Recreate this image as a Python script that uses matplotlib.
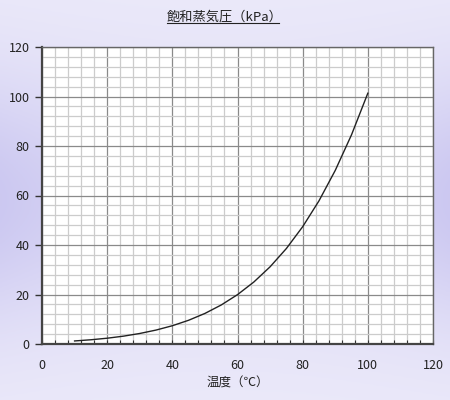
import numpy as np
import matplotlib
matplotlib.use("Agg")
import matplotlib.pyplot as plt
from matplotlib.ticker import MultipleLocator
from matplotlib.lines import Line2D

plt.rcParams['font.family'] = ['Noto Sans CJK JP', 'DejaVu Sans']

temps = [10, 15, 20, 25, 30, 35, 40, 45, 50, 55, 60, 65, 70, 75, 80, 85, 90, 95, 100]
pressure = [1.23, 1.71, 2.34, 3.17, 4.25, 5.63, 7.38, 9.59, 12.35, 15.76, 19.94,
            25.03, 31.19, 38.58, 47.39, 57.83, 70.14, 84.55, 101.33]
title = "飽和蒸気圧（kPa）"
xlabel = "温度（℃）"

fig = plt.figure(figsize=(4.5, 4.0), dpi=100)

# background gradient
bg = fig.add_axes([0, 0, 1, 1], zorder=-10)
bg.axis('off')
top = np.array([0.925, 0.918, 0.980])
mid = np.array([0.800, 0.785, 0.945])
yy = np.linspace(0, 1, 200)
prof = np.exp(-((yy - 0.5) / 0.32) ** 2)
xx = np.linspace(-1, 1, 200)
xprof = 0.55 + 0.45 * xx ** 2
w = prof[:, None] * xprof[None, :]
img = top[None, None, :] * (1 - w[..., None]) + mid[None, None, :] * w[..., None]
bg.imshow(img, aspect='auto', extent=[0, 1, 0, 1])
bg.set_xlim(0, 1); bg.set_ylim(0, 1)

ax = fig.add_axes([42/450, 56/400, 391/450, 297/400])
ax.set_facecolor('white')
ax.plot(temps, pressure, color='#222222', lw=1.0, zorder=3)
ax.set_xlim(0, 120)
ax.set_ylim(0, 120)
ax.xaxis.set_major_locator(MultipleLocator(20))
ax.yaxis.set_major_locator(MultipleLocator(20))
ax.xaxis.set_minor_locator(MultipleLocator(4))
ax.yaxis.set_minor_locator(MultipleLocator(4))
ax.grid(which='minor', color='#cccccc', lw=0.9)
ax.grid(which='major', color='#8a8a8a', lw=0.9)
ax.set_axisbelow(True)
ax.tick_params(axis='y', which='major', direction='out', length=5, width=1, color='#333333',
               labelsize=9, labelcolor='#222222', pad=4)
ax.tick_params(axis='y', which='minor', length=0)
ax.tick_params(axis='x', which='major', direction='in', length=3, width=0.8, color='#333333',
               labelsize=9, labelcolor='#222222', pad=11)
ax.tick_params(axis='x', which='minor', direction='in', length=3, width=0.8, color='#333333')
for s in ['left', 'bottom']:
    ax.spines[s].set_color('#444444')
    ax.spines[s].set_linewidth(1.6)
for s in ['top', 'right']:
    ax.spines[s].set_color('#666666')
    ax.spines[s].set_linewidth(1.0)
ax.set_xlabel(xlabel, fontsize=9, color='#222222', labelpad=3)

t = fig.text(0.5, 1 - 17/400, title, ha='center', va='center', fontsize=9.5, color='#222222')
fig.canvas.draw()
bb = t.get_window_extent().transformed(fig.transFigure.inverted())
fig.add_artist(Line2D([bb.x0, bb.x1 - 0.008], [bb.y0 + 0.002, bb.y0 + 0.002], color='#222222', lw=0.8,
                      transform=fig.transFigure))

fig.savefig('out.png', dpi=100)
